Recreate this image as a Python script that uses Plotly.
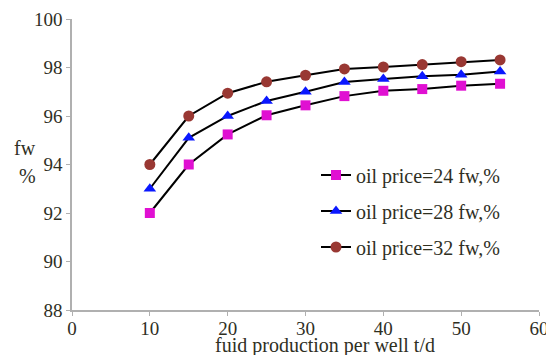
import plotly.graph_objects as go

x_vals = [10, 15, 20, 25, 30, 35, 40, 45, 50, 55]
fw_24 = [92.0, 94.0, 95.24, 96.03, 96.44, 96.82, 97.04, 97.11, 97.25, 97.33]
fw_28 = [93.0, 95.1, 96.0, 96.62, 97.0, 97.4, 97.53, 97.64, 97.7, 97.84]
fw_32 = [94.0, 96.0, 96.94, 97.41, 97.68, 97.94, 98.02, 98.12, 98.24, 98.31]
names = ["oil price=24 fw,%", "oil price=28 fw,%", "oil price=32 fw,%"]
x_ticks = [0, 10, 20, 30, 40, 50, 60]
y_ticks = [88, 90, 92, 94, 96, 98, 100]

FONT = "Liberation Serif, Times New Roman, serif"
TXT = "#2f2f1f"
FS = 20
TFS = 19

# page body has an 8px margin; figure sized to fit the 554x355 window
W, H = 546, 347
L, R, T, B = 64, 15, 11, 45
PW, PH = W - L - R, H - T - B

def px_x(p):  # page x -> paper x
    return (p - 8 - L) / PW

def px_y(p):  # page y -> paper y
    return 1 - (p - 8 - T) / PH

fig = go.Figure()
fig.add_trace(go.Scatter(x=x_vals, y=fw_24, name=names[0], mode="lines+markers", legend="legend",
                         line=dict(color="black", width=2),
                         marker=dict(symbol="square", size=10, color="#E010D2")))
fig.add_trace(go.Scatter(x=x_vals, y=fw_28, name=names[1], mode="lines+markers", legend="legend2",
                         line=dict(color="black", width=2),
                         marker=dict(symbol="triangle-up", size=11, color="#0A18FF")))
fig.add_trace(go.Scatter(x=x_vals, y=fw_32, name=names[2], mode="lines+markers", legend="legend3",
                         line=dict(color="black", width=2),
                         marker=dict(symbol="circle", size=11, color="#993833")))

def leg(yc):
    return dict(x=px_x(316), y=px_y(yc), xanchor="left", yanchor="middle",
                bgcolor="rgba(0,0,0,0)", font=dict(family=FONT, size=FS, color=TXT),
                itemwidth=30)

fig.update_layout(
    width=W, height=H,
    margin=dict(l=L, r=R, t=T, b=B),
    paper_bgcolor="white", plot_bgcolor="white",
    font=dict(family=FONT, size=TFS, color=TXT),
    showlegend=True,
    legend=leg(175), legend2=leg(211), legend3=leg(247),
    xaxis=dict(range=[0, 60], tickvals=x_ticks, showgrid=False, zeroline=False,
               showline=True, linecolor="#b0b0b0", linewidth=1.5, automargin=False,
               ticks="outside", ticklen=4, tickcolor="#b0b0b0", ticklabelstandoff=-4),
    yaxis=dict(range=[88, 100], tickvals=y_ticks, showgrid=False, zeroline=False,
               showline=True, linecolor="#b0b0b0", linewidth=1.5, automargin=False,
               ticks="outside", ticklen=4, tickcolor="#b0b0b0"),
    annotations=[
        dict(text="fuid production per well t/d", x=px_x(325), y=px_y(345), xref="paper", yref="paper",
             showarrow=False, xanchor="center", yanchor="middle",
             font=dict(family=FONT, size=FS, color=TXT)),
        dict(text="fw", x=px_x(25), y=px_y(148), xref="paper", yref="paper",
             showarrow=False, xanchor="center", yanchor="middle",
             font=dict(family=FONT, size=FS, color=TXT)),
        dict(text="%", x=px_x(27), y=px_y(176), xref="paper", yref="paper",
             showarrow=False, xanchor="center", yanchor="middle",
             font=dict(family=FONT, size=FS, color=TXT)),
    ],
)

fig.write_html("out.html")
